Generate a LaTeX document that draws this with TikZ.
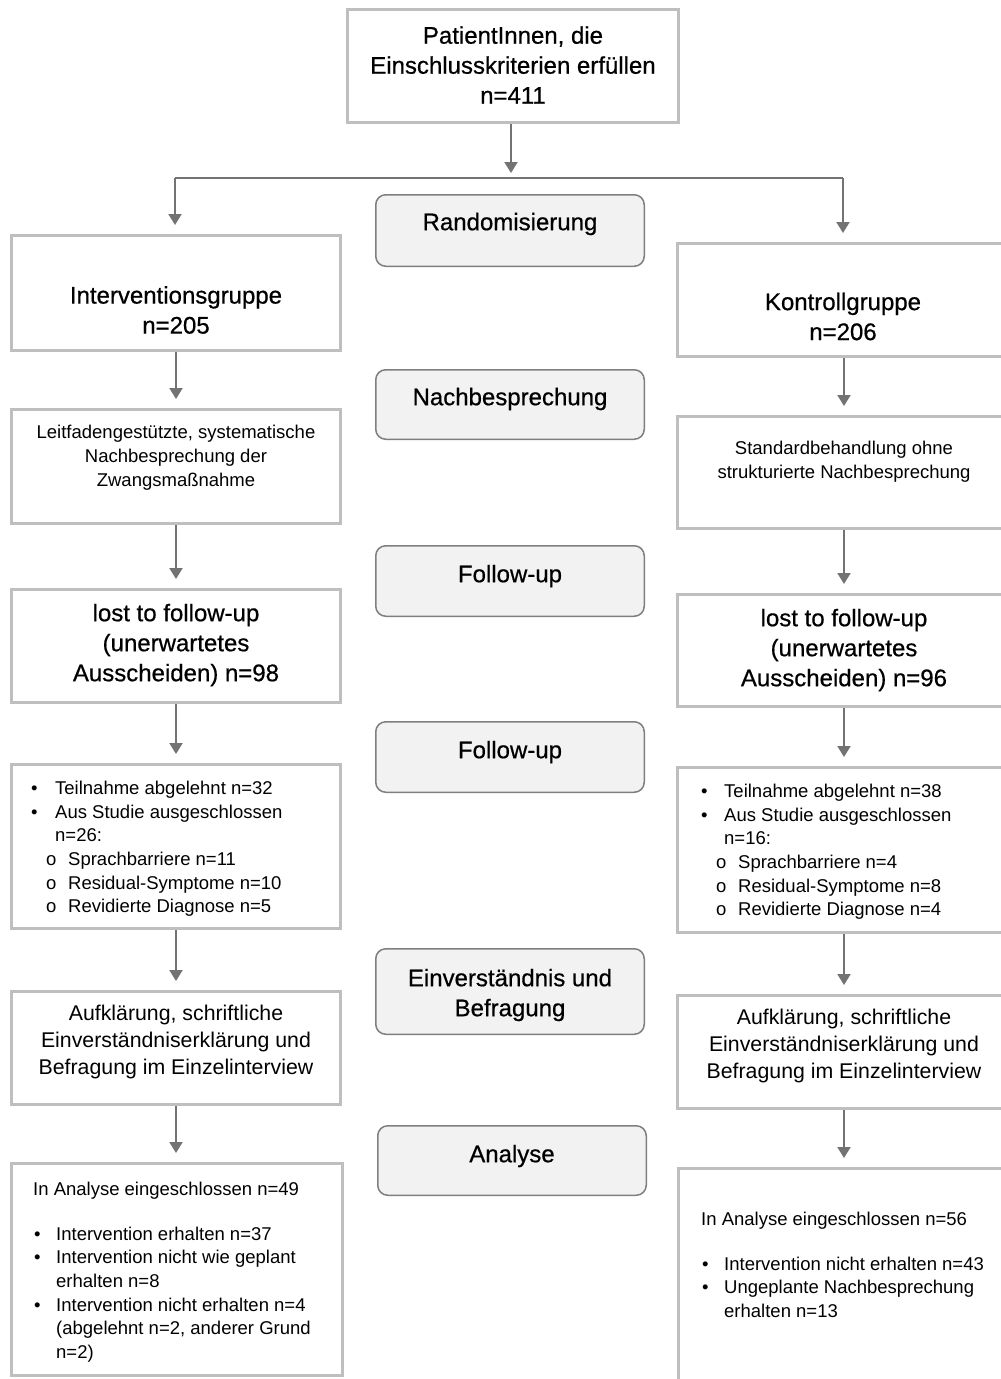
\documentclass[tikz,border=0pt]{standalone}
\usepackage{fontspec}
\setmainfont{Liberation Sans}
\newfontfamily\headfont[FakeBold=0.6]{Liberation Sans}
\usetikzlibrary{arrows.meta}
\definecolor{boxgray}{HTML}{BFBFBF}
\definecolor{arrgray}{HTML}{737373}
\definecolor{rndgray}{HTML}{7F7F7F}
\definecolor{rndfill}{HTML}{F2F2F2}
\begin{document}
\begin{tikzpicture}[x=1pt,y=-1pt,
  box/.style={draw=boxgray,line width=3pt,fill=white,inner sep=0pt},
  phase/.style={draw=rndgray,line width=1.5pt,fill=rndfill,rounded corners=10pt,inner sep=0pt,minimum width=268.5pt},
  arr/.style={draw=arrgray,line width=2pt,-{Triangle[width=13pt,length=11pt]},shorten >=9pt},
  splitline/.style={draw=arrgray,line width=1.2pt},
  big/.style={font=\headfont\fontsize{24}{30}\selectfont,align=center,inner sep=0pt,yshift=-2pt},
  mid/.style={font=\fontsize{21.3}{27}\selectfont,align=center,inner sep=0pt,yshift=-2pt},
  small/.style={font=\fontsize{18.5}{24}\selectfont,align=center,inner sep=0pt,yshift=-2pt},
  lst/.style={font=\fontsize{18.5}{23.6}\selectfont,align=left,inner sep=0pt,anchor=north west,yshift=-2pt},
  blt/.style={},
]
\useasboundingbox (0,0) rectangle (1001,1379);
\clip (0,0) rectangle (1001,1379);
\fill[white] (0,0) rectangle (1001,1379);

% ---------- top ----------
\node[box,minimum width=331pt,minimum height=113pt] (top) at (513,66) {};
\node[big] (tTop) at (513,63) {PatientInnen, die\\Einschlusskriterien erfüllen\\n=411};
\coordinate (split) at (511,178);
\coordinate (splitL) at (175,178);
\coordinate (splitR) at (843,178);

% ---------- phase boxes (middle) ----------
\node[phase,minimum height=71.5pt] (rand) at (510,230.5) {};
\node[big] (tRand) at (510,222) {Randomisierung};
\node[phase,minimum height=69.5pt] (nach) at (510,404.5) {};
\node[big] (tNach) at (510,397) {Nachbesprechung};
\node[phase,minimum height=70.5pt] (fol1) at (510,581) {};
\node[big] (tFol1) at (510,574) {Follow-up};
\node[phase,minimum height=70.5pt] (fol2) at (510,757) {};
\node[big] (tFol2) at (510,750) {Follow-up};
\node[phase,minimum height=85.5pt] (einv) at (510,991.5) {};
\node[big] (tEinv) at (510,993) {Einverständnis und\\Befragung};
\node[phase,minimum height=69.5pt] (anal) at (512,1160.5) {};
\node[big] (tAnal) at (512,1154) {Analyse};

% ---------- left column ----------
\node[box,minimum width=329pt,minimum height=115pt] (ig) at (176,293) {};
\node[big] (tIg) at (176,308) {Interventionsgruppe\\n=205};
\node[box,minimum width=329pt,minimum height=114pt] (leit) at (176,466.5) {};
\node[small] (tLeit) at (176,456) {Leitfadengestützte, systematische\\Nachbesprechung der\\Zwangsmaßnahme};
\node[box,minimum width=329pt,minimum height=113pt] (lostL) at (176,646) {};
\node[big] (tLostL) at (176,643) {lost to follow-up\\(unerwartetes\\Ausscheiden) n=98};
\node[box,minimum width=329pt,minimum height=164pt] (listL) at (176,846.5) {};
\node[lst] (tListL) at (31,779) {%
\makebox[24pt][l]{\textbullet}Teilnahme abgelehnt n=32\\
\makebox[24pt][l]{\textbullet}Aus Studie ausgeschlossen\\
\hspace*{24pt}n=26:\\
\hspace*{15pt}\makebox[22pt][l]{o}Sprachbarriere n=11\\
\hspace*{15pt}\makebox[22pt][l]{o}Residual-Symptome n=10\\
\hspace*{15pt}\makebox[22pt][l]{o}Revidierte Diagnose n=5};
\node[box,minimum width=329pt,minimum height=113pt] (aufL) at (176,1048) {};
\node[mid] (tAufL) at (176,1040) {Aufklärung, schriftliche\\Einverständniserklärung und\\Befragung im Einzelinterview};
\node[box,minimum width=331pt,minimum height=212pt] (resL) at (177,1269.5) {};
\node[lst] (tResL) at (33,1180) {%
In Analyse eingeschlossen n=49\\[21pt]
\hspace*{1pt}\makebox[22pt][l]{\textbullet}Intervention erhalten n=37\\
\hspace*{1pt}\makebox[22pt][l]{\textbullet}Intervention nicht wie geplant\\
\hspace*{23pt}erhalten n=8\\
\hspace*{1pt}\makebox[22pt][l]{\textbullet}Intervention nicht erhalten n=4\\
\hspace*{23pt}(abgelehnt n=2, anderer Grund\\
\hspace*{23pt}n=2)};

% ---------- right column ----------
\node[box,minimum width=333pt,minimum height=113pt] (kg) at (844,300) {};
\node[big] (tKg) at (843,314.5) {Kontrollgruppe\\n=206};
\node[box,minimum width=333pt,minimum height=112pt] (std) at (844,472.5) {};
\node[small] (tStd) at (844,460) {Standardbehandlung ohne\\strukturierte Nachbesprechung};
\node[box,minimum width=333pt,minimum height=112pt] (lostR) at (844,650.5) {};
\node[big] (tLostR) at (844,648) {lost to follow-up\\(unerwartetes\\Ausscheiden) n=96};
\node[box,minimum width=333pt,minimum height=165pt] (listR) at (844,850) {};
\node[lst] (tListR) at (701,782) {%
\makebox[23pt][l]{\textbullet}Teilnahme abgelehnt n=38\\
\makebox[23pt][l]{\textbullet}Aus Studie ausgeschlossen\\
\hspace*{23pt}n=16:\\
\hspace*{15pt}\makebox[22pt][l]{o}Sprachbarriere n=4\\
\hspace*{15pt}\makebox[22pt][l]{o}Residual-Symptome n=8\\
\hspace*{15pt}\makebox[22pt][l]{o}Revidierte Diagnose n=4};
\node[box,minimum width=333pt,minimum height=113pt] (aufR) at (844,1052) {};
\node[mid] (tAufR) at (844,1044) {Aufklärung, schriftliche\\Einverständniserklärung und\\Befragung im Einzelinterview};
\node[box,minimum width=332pt,minimum height=225pt] (resR) at (844.5,1281) {};
\node[lst] (tResR) at (701,1210) {%
In Analyse eingeschlossen n=56\\[21pt]
\hspace*{1pt}\makebox[22pt][l]{\textbullet}Intervention nicht erhalten n=43\\
\hspace*{1pt}\makebox[22pt][l]{\textbullet}Ungeplante Nachbesprechung\\
\hspace*{23pt}erhalten n=13};

% ---------- connectors ----------
\draw[arr,shorten >=5pt] (top.south -| split) -- (split);
\draw[splitline] (splitL) -- (splitR);
\draw[arr] (splitL) -- (splitL |- ig.north);
\draw[arr] (splitR) -- (splitR |- kg.north);

\draw[arr] (ig.south) -- (leit.north);
\draw[arr] (leit.south) -- (lostL.north);
\draw[arr] (lostL.south) -- (listL.north);
\draw[arr] (listL.south) -- (aufL.north);
\draw[arr] (aufL.south) -- (aufL.south |- resL.north);

\draw[arr] (kg.south) -- (std.north);
\draw[arr] (std.south) -- (lostR.north);
\draw[arr] (lostR.south) -- (listR.north);
\draw[arr] (listR.south) -- (aufR.north);
\draw[arr] (aufR.south) -- (aufR.south |- resR.north);
\end{tikzpicture}
\end{document}
